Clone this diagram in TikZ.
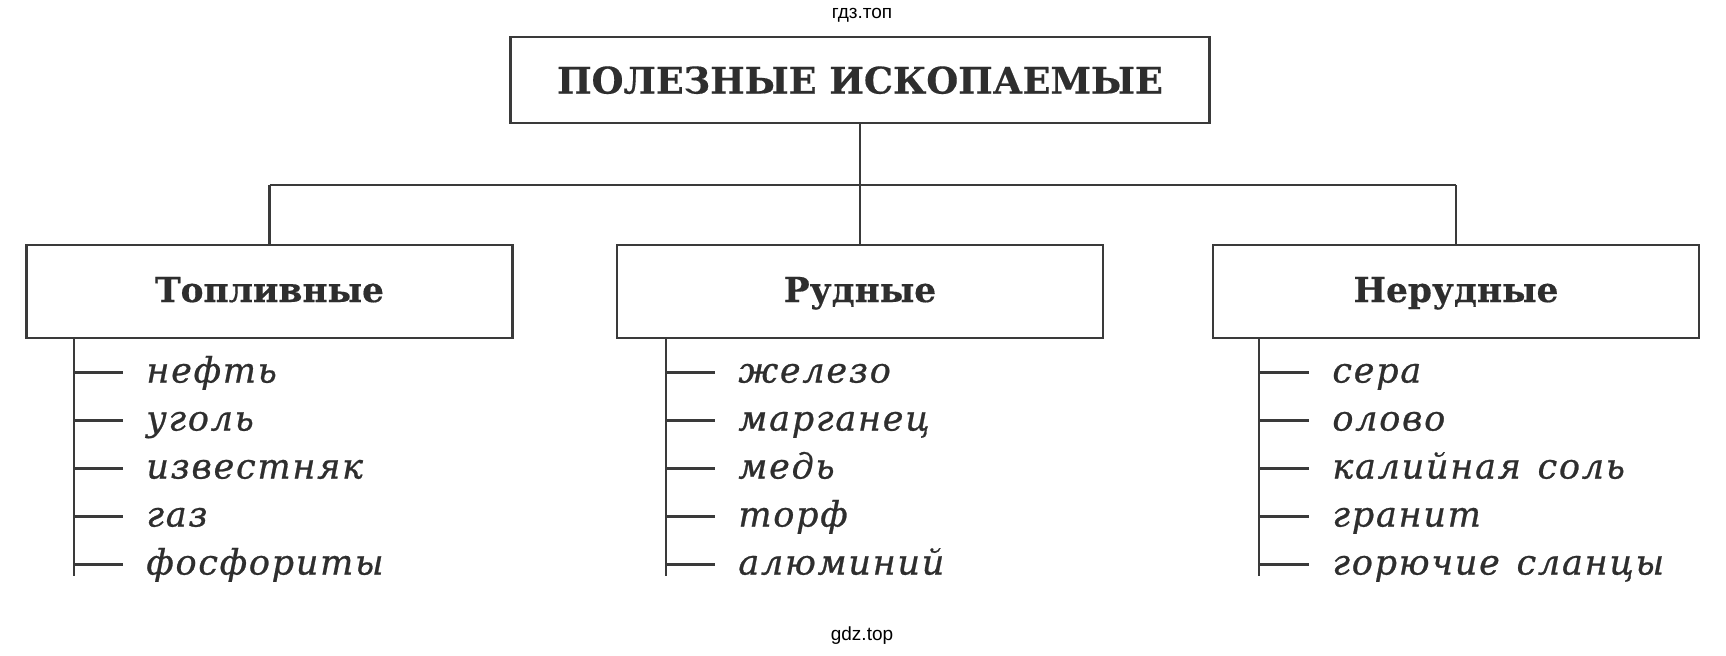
\documentclass[tikz,border=0pt]{standalone}
\usepackage{fontspec}
\setmainfont{DejaVu Serif}
\newfontfamily\wmfont{Liberation Sans}
\newfontfamily\itemfont{DejaVu Serif Italic}[FakeBold=0.7, LetterSpace=5, WordSpace=1.3]
\newfontfamily\headfont{DejaVu Serif Bold}[FakeBold=0.4]
\definecolor{ink}{HTML}{2E2E2E}
\definecolor{edge}{HTML}{3A3A3A}
\begin{document}
\begin{tikzpicture}[x=0.5pt,y=-0.5pt,
  box/.style={draw=edge, line width=1.3pt, fill=white, inner sep=0pt, text=ink},
  headbox/.style={box, minimum width=349.5pt, minimum height=43pt,
    font=\headfont\fontsize{18.3}{20}\selectfont, text height=13.5pt, text depth=0pt},
  subbox/.style={box, minimum width=243pt, minimum height=46.5pt,
    font=\headfont\fontsize{17.2}{19}\selectfont, text height=12.5pt, text depth=2pt},
  conn/.style={draw=edge, line width=1.1pt},
  item/.style={anchor=west, inner sep=0pt, text=ink,
    font=\itemfont\fontsize{17.5}{19}\selectfont, text height=12pt, text depth=2pt},
  wm/.style={inner sep=0pt, text=black, font=\wmfont\fontsize{9.5}{11}\selectfont}
]
\useasboundingbox (0,0) rectangle (1726,655);
\fill[white] (0,0) rectangle (1726,655);

% watermarks
\node[wm] (wmtop) at (862,15) {гдз.топ};
\node[wm] (wmbot) at (862,636) {gdz.top};

% boxes
\node[headbox] (top) at (860,80) {ПОЛЕЗНЫЕ ИСКОПАЕМЫЕ};
\node[subbox] (L) at (269.5,291.5) {Топливные};
\node[subbox] (M) at (860,291.5) {Рудные};
\node[subbox] (R) at (1456,291.5) {Нерудные};

% tree connectors
\coordinate (busL) at (269.5,185);
\coordinate (busR) at (1456,185);
\draw[conn] (busL) -- (busR);
\draw[conn] (top.south) -- (top.south |- busL);
\draw[conn] (busL) -- (L.north);
\draw[conn] (M.north |- busL) -- (M.north);
\draw[conn] (busR) -- (R.north);

% branches
\coordinate (lb) at (74,338);   \coordinate (le) at (74,576);
\coordinate (mb) at (666,338);  \coordinate (me) at (666,576);
\coordinate (rb) at (1259,338); \coordinate (re) at (1259,576);
\draw[conn] (lb) -- (le);
\draw[conn] (mb) -- (me);
\draw[conn] (rb) -- (re);

\foreach \t [count=\i] in {нефть,уголь,известняк,газ,фосфориты}{
  \node[item] (l\i) at (146,{372.5+48*(\i-1)}) {\t};
  \draw[conn] (l\i.west -| lb) -- ([xshift=-11.5pt]l\i.west);
}
\foreach \t [count=\i] in {железо,марганец,медь,торф,алюминий}{
  \node[item] (m\i) at (738,{372.5+48*(\i-1)}) {\t};
  \draw[conn] (m\i.west -| mb) -- ([xshift=-11.5pt]m\i.west);
}
\foreach \t [count=\i] in {сера,олово,калийная соль,гранит,горючие сланцы}{
  \node[item] (r\i) at (1332,{372.5+48*(\i-1)}) {\t};
  \draw[conn] (r\i.west -| rb) -- ([xshift=-11.5pt]r\i.west);
}
\end{tikzpicture}
\end{document}
